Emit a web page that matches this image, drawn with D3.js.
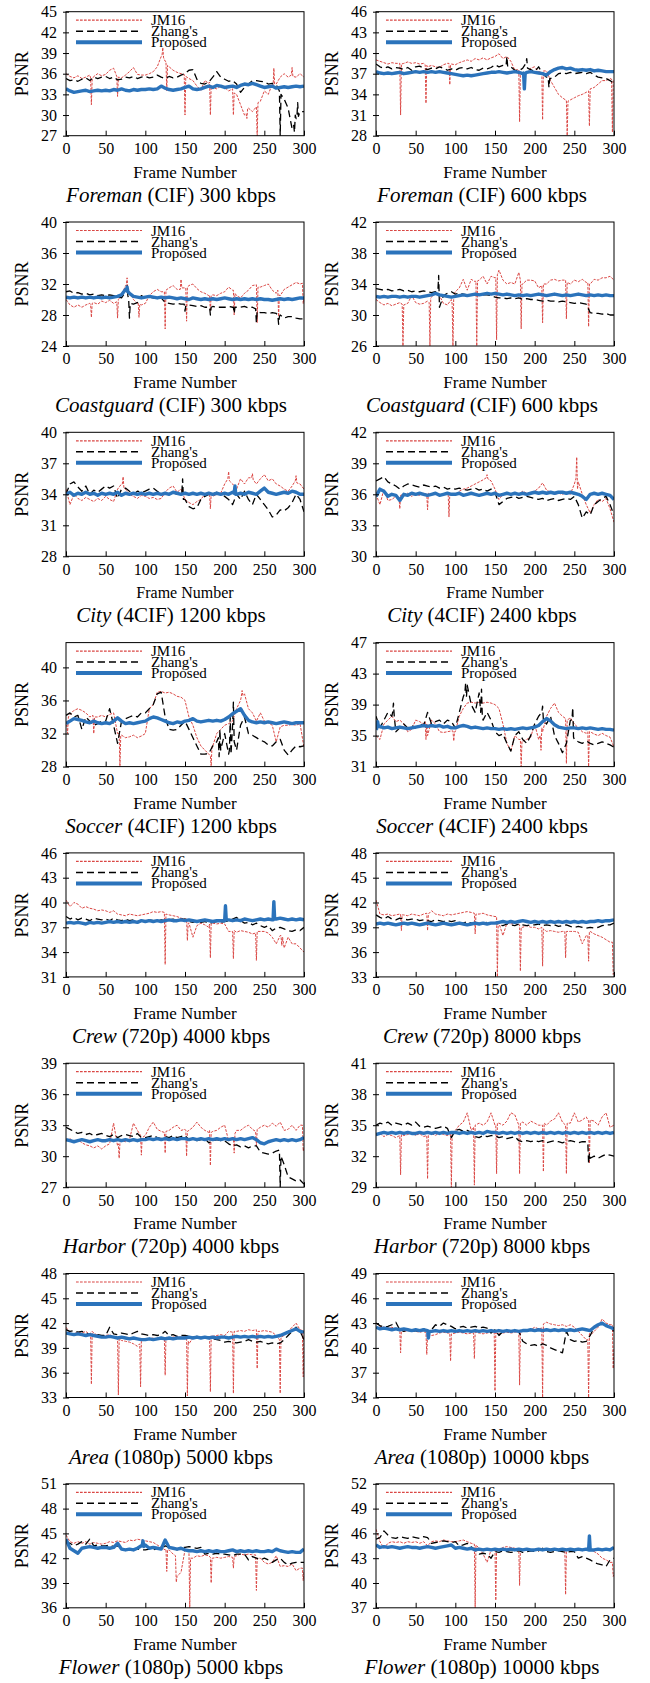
<!DOCTYPE html>
<html>
<head>
<meta charset="utf-8">
<script src="https://cdn.jsdelivr.net/npm/d3@7"></script>
<style>
  body { margin: 0; background: #fff; }
  svg { display: block; }
  text { font-family: "Liberation Serif", "Times New Roman", serif; fill: #000; }
</style>
</head>
<body>
<svg id="chart" width="650" height="1683" font-family="Liberation Serif, Times New Roman, serif"></svg>
<script>
// ---- shared axis values ----
const frameTicks = [0, 50, 100, 150, 200, 250, 300];
const frameGrid = d3.range(0, 301, 5);          // frames sampled every 5
const seriesNames = ["JM16", "Zhang's", "Proposed"];

// ---- panel captions ----
const sequenceNames = ["Foreman", "Foreman", "Coastguard", "Coastguard", "City", "City", "Soccer", "Soccer",
                       "Crew", "Crew", "Harbor", "Harbor", "Area", "Area", "Flower", "Flower"];
const captionTails = [" (CIF) 300 kbps", " (CIF) 600 kbps", " (CIF) 300 kbps", " (CIF) 600 kbps",
                      " (4CIF) 1200 kbps", " (4CIF) 2400 kbps", " (4CIF) 1200 kbps", " (4CIF) 2400 kbps",
                      " (720p) 4000 kbps", " (720p) 8000 kbps", " (720p) 4000 kbps", " (720p) 8000 kbps",
                      " (1080p) 5000 kbps", " (1080p) 10000 kbps", " (1080p) 5000 kbps", " (1080p) 10000 kbps"];

// ---- PSNR axes ----
const yDomains = [[27,45],[28,46],[24,40],[26,42],[28,40],[30,42],[28,43],[31,47],
                  [31,46],[33,48],[27,39],[29,41],[33,48],[34,49],[36,51],[37,52]];
const yTicks = [[27,30,33,36,39,42,45],[28,31,34,37,40,43,46],[24,28,32,36,40],[26,30,34,38,42],
                [28,31,34,37,40],[30,33,36,39,42],[28,32,36,40],[31,35,39,43,47],
                [31,34,37,40,43,46],[33,36,39,42,45,48],[27,30,33,36,39],[29,32,35,38,41],
                [33,36,39,42,45,48],[34,37,40,43,46,49],[36,39,42,45,48,51],[37,40,43,46,49,52]];

// ---- PSNR per frame (dB), frames 0..300 step 5; spikes: [frame, before, peak, after] ----
// Foreman CIF 300 kbps
const foreman300Jm = [36.0,35.6,35.4,35.7,35.3,35.5,35.8,35.6,36.0,35.7,
  35.9,36.5,36.8,35.5,35.4,35.8,36.3,36.9,35.9,35.8,
  35.8,36.0,36.3,37.0,38.5,37.8,37.0,36.5,36.2,36.0,
  35.8,35.3,35.0,34.2,33.6,35.0,34.6,34.0,33.8,34.2,
  34.0,33.5,33.8,33.0,31.5,30.0,31.0,30.5,31.5,32.0,
  33.5,33.0,34.5,34.5,35.5,36.0,35.5,36.5,35.5,36.0,35.5];
const foreman300JmSpikes = [[32,35.4,31.5,35.2],[65,35.6,32.7,35.5],[122,38.6,39.8,38.3],[127,37.8,33.5,37.2],
  [150,35.9,30.0,35.6],[182,34.8,30.0,34.2],[211,33.8,30.0,33.2],[228,30.2,29.5,31.0],[241,31.2,27.0,31.8],
  [262,34.0,36.8,34.5],[285,35.8,36.9,35.6]];
const foreman300Zhang = [35.3,35.0,35.1,34.9,35.2,35.4,35.0,35.5,35.3,35.5,
  35.6,35.3,35.5,35.1,35.2,35.5,35.4,35.6,35.3,35.5,
  35.6,35.4,35.5,35.8,35.5,35.3,35.6,35.4,35.5,35.8,
  36.0,36.5,36.6,35.2,34.6,34.5,34.8,35.5,36.3,35.5,
  35.2,34.9,35.0,34.5,33.3,34.0,34.5,35.0,35.0,34.9,
  34.8,34.5,34.6,34.4,33.5,32.3,31.0,28.0,29.5,30.5,30.5];
const foreman300ZhangSpikes = [[270,33.5,27.0,33.0],[288,28.5,27.5,30.0],[292,29.5,31.8,29.8]];
const foreman300Prop = [33.8,33.5,33.3,33.4,33.5,33.6,33.4,33.5,33.6,33.5,
  33.6,33.5,33.7,33.6,33.8,33.6,33.5,33.7,33.6,33.7,
  33.7,33.8,33.7,33.8,34.2,33.9,33.7,33.6,33.7,33.8,
  34.0,34.2,33.8,33.7,33.8,34.0,34.2,34.0,34.3,34.2,
  34.0,34.1,34.2,34.0,34.3,34.5,34.4,34.6,34.4,34.2,
  34.0,34.1,34.2,33.9,34.0,34.1,34.0,34.1,34.2,34.1,34.2];
const foreman300PropSpikes = [];

// Foreman CIF 600 kbps
const foreman600Jm = [39.0,38.8,38.6,38.4,38.6,38.5,38.4,38.5,38.7,38.5,
  38.6,38.4,38.5,38.0,38.2,38.0,37.9,38.3,38.5,38.4,
  38.3,38.6,38.8,39.0,38.8,39.2,39.0,39.3,39.0,39.3,
  39.5,39.9,39.2,39.5,38.8,37.5,37.3,37.0,37.2,37.8,
  38.0,37.3,37.0,37.4,36.0,35.0,34.0,33.5,33.0,33.2,
  33.5,33.8,34.0,34.3,34.5,35.0,35.5,36.0,36.0,36.3,36.0];
const foreman600JmSpikes = [[31,38.5,31.0,38.4],[63,38.3,32.7,38.2],[93,38.5,35.4,38.3],[181,37.6,30.0,37.2],
  [210,37.2,30.3,37.4],[241,33.1,28.0,33.0],[269,34.5,29.4,34.8],[298,36.2,28.5,36.0]];
const foreman600Zhang = [38.4,38.0,37.8,38.0,37.7,37.9,37.8,37.6,37.9,37.5,
  38.0,38.1,37.8,37.6,37.8,37.7,38.0,37.8,37.5,37.7,
  37.5,37.8,37.9,37.7,37.9,37.6,37.5,37.8,37.7,37.9,
  38.3,38.0,38.2,38.8,38.0,37.5,37.4,37.8,38.9,37.6,
  37.3,38.0,37.0,36.5,36.3,36.5,37.0,37.1,37.0,37.2,
  37.0,37.1,37.2,37.0,37.2,36.8,36.5,36.4,36.3,36.0,35.6];
const foreman600ZhangSpikes = [[165,38.2,39.5,38.0],[190,38.5,39.2,37.8],[218,36.5,35.0,36.3]];
const foreman600Prop = [37.3,37.1,37.0,37.1,37.0,37.1,37.2,37.0,37.1,37.2,
  37.3,37.2,37.3,37.2,37.3,37.2,37.3,37.2,37.1,37.0,
  36.9,36.8,36.7,36.8,36.7,36.8,36.9,37.0,37.1,37.2,
  37.2,37.3,37.2,37.1,37.2,37.3,37.2,37.0,37.2,37.3,
  37.2,37.1,37.0,36.8,37.3,37.6,37.8,37.9,37.7,37.8,
  37.6,37.5,37.6,37.5,37.6,37.4,37.5,37.4,37.3,37.3,37.3];
const foreman600PropSpikes = [[187,37.1,34.8,37.0]];

// Coastguard CIF 300 kbps
const coast300Jm = [30.0,29.3,29.0,29.3,29.0,29.3,29.5,29.6,29.4,29.8,
  29.6,29.9,29.5,29.8,30.5,31.8,31.0,30.0,29.5,29.3,
  29.5,30.5,31.0,31.3,31.0,31.2,31.5,31.8,31.3,32.0,
  31.5,31.8,32.0,31.4,31.0,30.8,30.5,30.6,30.5,30.8,
  31.0,31.6,31.2,30.5,30.2,30.8,31.2,31.8,32.0,31.6,
  31.8,32.0,31.2,30.8,30.5,31.3,31.6,31.9,32.2,32.0,32.0];
const coast300JmSpikes = [[32,29.4,27.7,29.5],[65,29.7,27.6,30.0],[77,31.8,32.8,31.2],[92,29.6,27.7,29.4],
  [125,31.0,26.2,31.2],[145,31.3,32.6,31.5],[152,31.5,27.2,31.6],[182,30.6,28.5,30.5],[212,31.2,28.0,30.8],
  [241,31.9,27.0,31.6],[268,31.2,27.8,30.6],[299,32.1,29.5,30.2]];
const coast300Zhang = [31.0,31.1,30.8,30.9,30.7,30.8,30.6,30.7,30.5,30.6,
  30.5,30.6,30.5,30.4,30.2,31.0,29.5,29.4,29.6,30.5,
  30.2,30.3,30.2,30.1,30.2,29.6,29.5,29.4,29.5,29.4,
  29.2,29.3,29.2,29.1,29.2,29.0,29.0,29.1,29.0,29.0,
  29.0,29.1,29.0,29.0,29.0,29.1,28.9,29.0,28.6,28.3,
  28.3,28.2,28.3,28.2,28.0,27.6,27.8,27.8,27.6,27.5,27.5];
const coast300ZhangSpikes = [[77,31.0,31.8,30.5],[80,30.0,27.6,29.5],[150,29.4,28.5,29.2],[182,29.0,28.0,29.0],
  [212,29.0,28.2,29.0],[240,28.8,27.0,28.5],[268,28.0,26.8,27.8]];
const coast300Prop = [30.3,30.2,30.3,30.2,30.3,30.2,30.3,30.2,30.3,30.2,
  30.3,30.2,30.3,30.4,30.6,31.3,30.8,30.4,30.3,30.2,
  30.3,30.4,30.3,30.2,30.3,30.2,30.3,30.2,30.1,30.2,
  30.1,30.0,30.2,30.1,30.0,30.1,30.0,30.1,30.0,30.1,
  30.2,30.1,30.0,30.1,30.0,30.1,30.0,30.1,30.0,30.1,
  30.0,30.0,29.9,30.0,30.1,30.0,30.1,30.0,30.1,30.2,30.2];
const coast300PropSpikes = [[77,31.2,31.6,31.0]];

// Coastguard CIF 600 kbps
const coast600Jm = [32.0,31.6,31.3,31.5,31.2,31.4,31.6,31.3,31.5,32.5,
  31.6,31.4,31.5,31.8,32.3,33.0,32.5,31.5,31.3,32.0,
  33.0,33.5,34.6,33.2,34.6,34.3,34.5,35.0,34.0,35.0,
  34.8,35.8,34.5,34.0,34.2,34.0,35.5,34.0,34.5,34.5,
  34.4,33.5,34.3,34.0,34.5,34.6,34.4,34.5,34.6,34.0,
  34.5,34.3,34.6,34.2,34.0,34.6,34.5,34.8,34.8,35.0,34.5];
const coast600JmSpikes = [[34,31.4,26.0,31.3],[68,31.6,26.0,32.2],[97,31.4,26.0,32.6],[127,34.4,26.0,34.4],
  [152,34.8,26.8,35.2],[183,34.5,28.2,34.0],[210,33.8,29.0,34.0],[240,34.5,29.5,34.2],[268,34.2,28.5,34.0]];
const coast600Zhang = [33.4,33.3,33.2,33.3,33.1,33.2,33.3,33.1,33.2,33.0,
  33.1,33.0,33.1,33.0,32.9,33.0,32.4,32.5,32.8,33.0,
  32.7,32.8,32.7,32.6,32.7,32.6,32.7,32.6,32.6,32.5,
  32.3,32.2,32.2,32.1,32.2,32.1,32.2,32.0,32.1,32.0,
  32.0,31.9,31.8,31.9,31.8,31.8,31.7,31.8,31.7,31.6,
  31.5,31.6,31.5,31.4,30.3,30.2,30.2,30.1,30.2,30.0,30.0];
const coast600ZhangSpikes = [[79,33.1,35.1,31.0]];
const coast600Prop = [32.4,32.3,32.4,32.3,32.4,32.4,32.3,32.4,32.3,32.4,
  32.4,32.3,32.4,32.5,32.6,32.8,32.6,32.5,32.4,32.3,
  32.4,32.5,32.6,32.5,32.6,32.7,32.6,32.7,32.8,32.7,
  32.8,32.7,32.6,32.7,32.6,32.5,32.6,32.5,32.6,32.5,
  32.6,32.7,32.6,32.5,32.6,32.7,32.6,32.5,32.6,32.5,
  32.6,32.7,32.6,32.5,32.6,32.5,32.6,32.5,32.6,32.5,32.5];
const coast600PropSpikes = [];

// City 4CIF 1200 kbps
const city1200Jm = [34.5,33.0,34.0,33.6,33.4,33.7,33.5,33.3,33.6,33.4,
  33.8,33.5,33.3,34.5,35.0,34.5,34.0,33.8,33.6,33.9,
  33.8,33.6,33.7,33.5,33.6,34.2,34.6,34.8,34.2,34.5,
  33.5,33.2,33.0,33.3,33.5,34.0,34.2,33.8,34.0,34.1,
  35.0,36.0,35.0,34.5,35.5,35.0,35.6,35.9,35.0,35.5,
  35.9,35.3,35.5,35.0,34.8,34.5,34.3,34.8,35.5,35.0,34.5];
const city1200JmSpikes = [[72,35.0,35.7,34.6],[182,34.0,32.6,34.0],[205,35.5,36.2,35.3],[235,35.6,36.0,35.4],
  [290,35.3,35.8,35.1]];
const city1200Zhang = [34.0,35.0,35.2,34.7,34.3,34.8,34.0,34.4,34.2,34.5,
  34.8,34.6,34.8,33.6,34.5,34.6,34.3,34.0,34.3,34.2,
  34.3,34.5,34.6,34.3,34.0,34.1,34.0,34.2,34.0,34.3,
  33.5,32.8,32.6,32.7,33.5,33.8,34.0,34.0,34.2,34.0,
  33.8,33.5,33.0,34.0,33.5,34.3,33.5,33.0,34.0,33.5,
  33.0,32.5,31.8,32.0,32.5,32.4,32.7,33.2,34.0,33.5,32.3];
const city1200ZhangSpikes = [[147,34.2,35.5,33.5]];
const city1200Prop = [34.0,34.2,33.9,34.1,34.0,34.2,34.0,34.1,33.9,34.1,
  34.0,34.1,34.0,34.2,33.9,34.1,34.0,34.1,34.0,34.1,
  34.0,34.1,34.0,34.1,34.0,34.1,34.0,34.2,34.1,34.0,
  34.1,34.0,34.1,34.0,34.1,34.0,34.1,34.0,34.1,34.0,
  34.1,34.0,34.2,34.0,34.1,34.0,34.2,34.1,34.0,34.3,
  34.6,34.2,34.1,34.0,34.1,34.2,34.1,34.3,34.2,34.0,34.0];
const city1200PropSpikes = [[213,34.1,34.8,34.0]];

// City 4CIF 2400 kbps
const city2400Jm = [36.0,35.0,36.5,35.4,35.5,35.8,35.9,36.0,36.1,35.8,
  36.0,35.9,36.1,35.8,36.0,36.1,35.9,36.0,36.1,35.9,
  36.0,36.3,36.5,36.6,36.8,37.0,37.2,37.4,37.6,37.3,
  36.5,35.5,36.0,36.2,36.0,36.1,36.0,36.3,36.1,36.2,
  36.3,36.6,37.1,36.4,36.2,36.0,36.1,36.0,36.2,36.0,
  37.0,37.2,36.0,35.0,34.2,35.0,35.5,35.3,35.6,34.6,33.3];
const city2400JmSpikes = [[30,35.8,34.6,35.9],[65,36.0,34.5,36.1],[92,36.0,33.8,36.0],[140,37.6,37.9,37.5],
  [253,37.5,39.6,36.5]];
const city2400Zhang = [37.3,37.5,37.7,37.2,37.0,36.8,36.5,36.8,37.0,36.9,
  36.8,36.7,36.9,36.8,36.7,36.8,36.6,36.7,36.5,36.6,
  36.5,36.6,36.5,36.4,36.5,36.6,36.4,36.5,36.3,36.5,
  36.2,35.0,35.3,35.6,35.7,35.8,35.6,35.7,35.8,35.7,
  35.6,35.5,35.6,35.4,35.5,35.6,35.4,35.5,35.6,35.5,
  35.8,35.0,33.7,34.3,34.0,35.0,35.3,35.6,35.8,35.0,34.0];
const city2400ZhangSpikes = [];
const city2400Prop = [35.8,36.5,36.3,35.8,36.0,35.9,35.4,36.0,35.9,36.1,
  36.0,36.1,36.0,35.9,36.0,36.1,35.9,36.0,36.1,36.0,
  36.0,36.1,35.9,36.0,36.1,36.0,35.9,36.0,36.1,36.0,
  36.1,35.9,36.0,36.1,36.0,36.1,36.0,36.1,36.0,36.1,
  36.2,36.1,36.2,36.1,36.2,36.1,36.2,36.2,36.1,36.2,
  36.1,36.0,35.8,35.5,36.0,36.1,36.0,36.1,36.0,35.9,35.5];
const city2400PropSpikes = [];

// Soccer 4CIF 1200 kbps
const soccer1200Jm = [33.0,34.3,34.8,35.0,34.8,34.5,34.0,34.3,34.0,34.2,
  34.0,34.3,34.5,32.0,31.8,31.5,31.6,31.8,31.5,31.7,
  32.0,35.0,35.5,37.0,37.1,36.9,37.0,36.8,36.5,36.4,
  36.0,34.0,33.0,31.5,30.5,30.0,29.5,30.5,32.0,32.5,
  33.0,33.2,33.5,35.0,36.0,36.8,35.0,34.5,33.5,34.5,
  33.5,33.3,33.0,31.0,32.8,33.0,33.0,33.1,33.0,33.2,30.3];
const soccer1200JmSpikes = [[2,33.0,32.0,34.0],[35,34.2,32.0,34.0],[68,32.0,28.0,31.8],[183,29.3,28.0,30.5],
  [222,36.5,37.2,36.6]];
const soccer1200Zhang = [34.2,34.5,34.0,34.2,32.5,34.0,33.5,33.0,33.2,33.5,
  33.5,35.0,33.0,30.8,33.5,33.8,34.0,34.2,34.0,34.5,
  34.5,35.0,35.5,36.8,37.0,34.0,32.5,32.4,32.5,33.0,
  33.5,32.5,31.5,30.5,29.5,29.5,29.6,30.5,31.0,30.0,
  32.0,29.5,33.0,30.0,33.0,34.0,32.0,31.8,31.5,31.2,
  31.0,30.6,30.5,31.0,31.3,30.0,29.4,30.0,30.5,30.4,30.5];
const soccer1200ZhangSpikes = [[193,31.5,29.2,32.5],[207,30.0,34.0,29.5],[211,33.0,35.8,31.0]];
const soccer1200Prop = [33.2,33.5,33.8,33.7,33.6,33.4,33.3,33.5,33.3,33.2,
  33.3,33.2,33.5,33.9,33.5,33.2,33.3,33.2,33.3,33.4,
  33.5,33.8,34.0,33.9,33.7,33.5,33.3,33.2,33.4,33.3,
  33.5,33.6,33.8,33.5,33.4,33.5,33.6,33.5,33.6,33.5,
  33.7,34.0,34.4,34.7,35.0,34.2,33.6,33.4,33.3,33.4,
  33.3,33.4,33.3,33.2,33.3,33.4,33.3,33.2,33.3,33.3,33.3];
const soccer1200PropSpikes = [];

// Soccer 4CIF 2400 kbps
const soccer2400Jm = [35.0,34.5,36.5,37.0,37.5,36.8,37.0,36.5,35.5,35.8,
  37.0,36.8,36.5,35.0,37.0,36.5,35.5,35.4,35.5,35.6,
  35.5,37.5,38.5,39.2,39.3,39.2,39.3,39.2,39.3,39.2,
  39.0,38.5,36.5,34.0,33.0,35.0,34.5,34.3,34.5,34.8,
  36.5,34.5,35.5,37.5,38.5,39.2,38.0,37.5,37.0,37.3,
  36.5,36.0,35.5,35.3,35.5,35.2,35.0,35.3,35.0,34.8,33.5];
const soccer2400JmSpikes = [[63,36.8,34.5,36.5],[98,35.6,34.3,35.5],[183,34.5,31.0,34.3],[208,35.0,33.1,36.0],
  [240,37.2,31.4,37.0],[268,35.5,31.0,35.5]];
const soccer2400Zhang = [37.5,36.0,37.0,38.0,37.5,35.5,36.0,36.5,36.0,36.3,
  36.0,36.5,36.3,38.0,36.5,36.8,37.0,36.5,37.0,36.8,
  36.0,38.0,40.0,41.5,39.0,38.0,40.5,37.0,38.0,37.0,
  35.5,35.0,35.2,34.0,33.0,35.0,35.5,34.5,34.0,35.0,
  36.5,37.5,38.5,36.5,37.5,35.0,34.0,32.8,34.0,37.0,
  34.5,34.2,34.0,34.3,34.0,33.8,34.0,34.2,34.0,33.8,33.5];
const soccer2400ZhangSpikes = [[22,38.0,39.2,37.5],[113,40.5,41.8,40.0],[133,38.0,41.0,37.5],[210,38.0,38.8,37.0],
  [248,37.0,38.6,34.8]];
const soccer2400Prop = [35.8,36.2,36.0,36.1,35.9,36.0,36.1,36.0,35.9,36.0,
  36.1,36.2,36.3,36.2,36.3,36.2,36.3,36.1,36.2,36.0,
  36.0,36.2,36.3,36.2,36.0,36.1,36.0,35.9,36.0,35.9,
  35.9,35.8,35.9,35.8,35.9,35.8,35.9,36.0,35.9,36.0,
  36.1,36.3,36.8,37.2,36.9,36.4,36.1,36.0,35.9,36.0,
  36.0,35.9,36.0,35.9,36.0,35.9,35.8,35.9,35.8,35.8,35.7];
const soccer2400PropSpikes = [[2,35.9,36.8,36.2]];

// Crew 720p 4000 kbps
const crew4000Jm = [40.3,39.5,40.0,39.8,39.3,39.5,39.3,39.2,39.0,39.1,
  39.0,38.8,39.0,38.6,38.5,38.4,38.6,38.5,38.4,38.5,
  38.6,38.7,38.9,38.8,38.9,38.7,38.5,38.4,38.3,38.1,
  38.0,37.5,35.8,37.2,37.5,37.3,37.0,37.5,37.4,37.5,
  37.4,36.5,36.8,36.4,36.6,36.5,36.4,36.2,36.4,36.5,
  36.5,36.3,35.8,35.0,36.0,34.5,35.8,35.0,35.0,34.5,34.0];
const crew4000JmSpikes = [[125,38.8,32.5,38.6],[153,38.0,35.4,37.5],[182,37.4,33.3,37.5],[211,36.5,33.2,36.6],
  [240,36.3,33.0,36.5],[272,36.0,34.8,35.8]];
const crew4000Zhang = [38.3,38.0,38.2,37.9,38.1,38.0,37.8,38.1,38.0,37.9,
  38.0,37.8,38.1,37.9,37.8,38.0,37.8,37.9,37.7,37.8,
  37.8,37.9,37.8,37.7,37.9,37.8,37.9,38.0,37.8,38.0,
  38.0,37.7,37.6,37.8,37.6,37.7,37.5,37.6,37.7,37.6,
  37.7,37.8,38.0,38.2,37.8,37.5,37.6,37.3,37.5,37.2,
  37.0,37.2,36.6,36.9,37.0,36.8,36.6,36.5,36.7,36.6,37.0];
const crew4000ZhangSpikes = [];
const crew4000Prop = [37.5,37.6,37.5,37.6,37.5,37.4,37.6,37.5,37.6,37.5,
  37.6,37.7,37.6,37.7,37.6,37.7,37.6,37.7,37.6,37.8,
  37.7,37.8,37.7,37.8,37.7,37.8,37.9,37.8,37.8,37.9,
  37.8,37.9,37.8,37.7,37.8,37.9,37.8,37.7,37.8,37.8,
  37.8,37.9,37.8,37.9,37.8,38.0,37.9,37.8,37.9,38.0,
  37.9,38.0,37.9,38.0,38.1,38.0,37.9,38.0,37.9,38.0,37.9];
const crew4000PropSpikes = [[201,37.8,39.6,37.9],[262,37.9,40.1,38.0]];

// Crew 720p 8000 kbps
const crew8000Jm = [42.3,40.6,40.5,40.6,40.4,40.5,40.6,40.5,40.4,40.6,
  40.5,40.4,40.6,40.8,41.0,40.6,40.5,40.4,40.6,40.5,
  40.6,40.7,40.8,40.9,40.8,40.7,40.6,40.7,40.5,40.4,
  40.3,39.5,38.0,39.5,39.4,39.5,39.3,39.0,39.2,39.0,
  39.0,38.8,38.6,38.5,38.6,38.5,38.4,38.5,38.4,38.5,
  38.5,38.4,37.0,38.0,38.5,38.2,38.0,37.8,37.5,37.2,37.0];
const crew8000JmSpikes = [[32,40.6,38.6,40.5],[65,40.7,38.6,40.6],[125,40.7,38.2,40.6],[153,40.3,33.0,39.5],
  [182,39.3,33.7,39.0],[210,39.0,34.3,38.8],[239,38.5,35.3,38.5],[268,38.0,34.9,38.5],[299,37.2,33.3,33.5]];
const crew8000Zhang = [40.5,40.2,40.0,40.3,40.0,39.9,40.1,40.0,39.9,40.0,
  40.0,39.8,39.9,39.8,39.7,39.9,39.8,39.7,39.8,39.7,
  39.8,39.6,39.5,39.7,39.5,39.6,39.4,39.5,39.6,39.5,
  39.5,39.3,39.2,39.4,39.3,39.2,39.4,39.3,39.2,39.3,
  39.3,39.4,39.2,39.3,39.2,39.3,39.1,39.2,39.3,39.1,
  39.0,39.1,39.0,38.9,39.0,38.9,39.0,39.2,39.3,39.3,39.5];
const crew8000ZhangSpikes = [];
const crew8000Prop = [39.4,39.5,39.4,39.5,39.4,39.3,39.4,39.5,39.4,39.5,
  39.4,39.3,39.4,39.5,39.4,39.3,39.4,39.5,39.4,39.3,
  39.4,39.5,39.4,39.3,39.4,39.5,39.4,39.5,39.4,39.5,
  39.5,39.6,39.7,39.6,39.7,39.6,39.7,39.8,39.7,39.6,
  39.7,39.6,39.7,39.6,39.7,39.6,39.7,39.6,39.7,39.6,
  39.7,39.6,39.7,39.6,39.7,39.7,39.8,39.7,39.8,39.8,39.9];
const crew8000PropSpikes = [];

// Harbor 720p 4000 kbps
const harbor4000Jm = [31.5,31.7,31.4,31.6,31.3,31.1,31.0,30.8,31.0,30.7,
  31.0,31.2,33.2,31.0,31.5,31.4,31.6,33.2,32.5,32.0,
  32.0,32.8,33.3,32.6,32.4,32.0,32.5,32.8,33.0,32.5,
  32.6,32.5,32.8,33.3,32.8,32.5,32.3,32.4,32.5,32.8,
  33.0,31.5,31.8,32.5,32.5,32.8,33.0,32.6,32.4,32.8,
  33.0,32.8,33.2,32.9,33.3,32.5,32.6,33.0,32.5,33.0,32.5];
const harbor4000JmSpikes = [[67,31.2,29.8,31.3],[95,32.0,30.1,31.8],[125,32.3,30.3,32.4],[152,32.5,30.0,32.4],
  [182,32.5,29.1,32.3],[212,31.8,30.3,32.2],[240,32.4,31.0,32.6],[299,33.0,30.5,30.8]];
const harbor4000Zhang = [32.8,32.6,32.4,32.2,32.3,32.1,32.2,32.0,32.1,32.2,
  32.0,31.9,32.1,31.8,32.0,32.1,32.0,31.9,32.2,31.8,
  31.8,31.9,32.0,31.8,31.7,31.9,31.8,32.0,31.8,31.9,
  32.0,31.6,31.7,31.5,31.6,31.7,31.3,31.5,31.6,31.5,
  31.5,31.2,31.0,31.1,30.9,31.0,30.8,31.0,31.0,30.4,
  30.3,30.2,30.3,30.5,30.2,29.2,28.0,27.8,27.6,27.7,27.3];
const harbor4000ZhangSpikes = [[270,30.6,27.0,30.0]];
const harbor4000Prop = [31.6,31.5,31.4,31.5,31.6,31.5,31.4,31.5,31.6,31.5,
  31.5,31.6,31.5,31.6,31.5,31.6,31.5,31.6,31.5,31.6,
  31.6,31.7,31.6,31.7,31.6,31.7,31.6,31.7,31.6,31.7,
  31.7,31.6,31.7,31.6,31.7,31.6,31.7,31.6,31.7,31.6,
  31.7,31.6,31.7,31.6,31.7,31.6,31.7,31.8,31.6,31.3,
  31.2,31.4,31.5,31.6,31.5,31.6,31.5,31.6,31.5,31.6,31.8];
const harbor4000PropSpikes = [];

// Harbor 720p 8000 kbps
const harbor8000Jm = [34.0,34.2,33.9,34.1,34.0,33.8,34.2,34.0,34.1,34.3,
  34.0,34.2,33.9,34.0,34.2,34.0,34.3,34.1,34.0,34.2,
  34.5,35.0,35.3,36.2,34.5,35.0,35.2,35.0,35.3,36.2,
  35.0,35.2,35.0,35.4,36.2,36.0,35.0,35.3,35.0,35.4,
  35.2,35.0,35.3,35.0,35.4,35.6,36.2,35.3,35.0,35.2,
  36.2,35.3,35.5,35.8,36.2,35.4,35.0,35.8,36.2,34.8,35.0];
const harbor8000JmSpikes = [[31,34.0,30.2,34.1],[65,34.0,29.8,34.2],[95,34.1,29.0,34.3],[124,34.8,29.2,35.0],
  [152,35.0,30.3,35.2],[181,35.0,30.3,35.2],[211,35.0,30.5,35.2],[240,35.0,30.3,35.2],[269,35.4,31.3,35.5]];
const harbor8000Zhang = [35.0,35.2,35.1,35.3,35.0,35.2,35.1,35.0,35.2,35.0,
  35.3,34.9,34.8,34.9,34.8,34.7,34.8,34.9,34.7,33.8,
  34.5,34.6,34.4,34.5,34.3,33.9,33.8,34.0,33.9,34.0,
  34.0,33.8,33.9,33.7,33.8,33.9,33.5,33.4,33.5,33.4,
  33.5,33.4,33.5,33.3,33.4,33.5,33.4,33.3,33.4,33.5,
  33.4,33.3,33.4,33.4,31.8,32.0,31.8,32.0,32.2,32.1,32.0];
const harbor8000ZhangSpikes = [[268,33.3,31.3,32.3]];
const harbor8000Prop = [34.1,34.2,34.3,34.2,34.3,34.2,34.3,34.2,34.3,34.2,
  34.2,34.3,34.2,34.3,34.2,34.3,34.2,34.3,34.2,34.3,
  34.3,34.2,34.3,34.2,34.3,34.2,34.3,34.2,34.4,34.3,
  34.3,34.2,34.3,34.2,34.3,34.2,34.3,34.2,34.3,34.2,
  34.3,34.2,34.3,34.2,34.3,34.2,34.3,34.2,34.3,34.2,
  34.3,34.2,34.3,34.2,34.3,34.2,34.3,34.2,34.3,34.2,34.3];
const harbor8000PropSpikes = [];

// Area 1080p 5000 kbps
const area5000Jm = [41.5,40.8,40.7,40.9,40.8,41.0,40.6,40.8,40.5,40.4,
  40.5,40.6,40.3,40.2,39.9,39.8,39.7,39.5,39.2,39.8,
  40.0,40.1,40.2,40.0,40.3,40.1,40.2,40.3,40.4,40.3,
  40.3,39.5,40.2,40.2,40.3,40.2,40.3,40.4,40.5,40.6,
  40.5,41.0,40.8,41.0,41.1,41.0,41.2,41.1,41.2,41.0,
  41.1,41.0,40.9,40.5,40.0,40.5,41.0,41.5,42.0,41.2,41.0];
const area5000JmSpikes = [[32,40.9,34.6,41.0],[66,40.3,33.3,40.1],[94,39.5,34.3,39.8],[125,40.2,35.7,40.3],
  [153,40.3,33.2,39.8],[182,40.4,33.7,40.5],[211,40.9,33.5,41.0],[241,41.2,36.5,41.0],[270,40.0,33.5,40.3],
  [299,41.1,35.5,40.5]];
const area5000Zhang = [41.2,41.0,41.1,40.9,41.0,40.8,40.6,40.5,40.6,40.5,
  40.5,41.5,40.7,40.6,40.8,40.7,40.6,40.8,41.0,40.7,
  40.6,40.5,40.6,40.5,40.6,41.0,40.5,40.6,40.4,40.5,
  40.5,40.4,40.3,40.4,40.3,40.2,40.3,40.1,40.0,39.9,
  39.7,39.8,39.7,39.6,39.7,39.8,40.0,39.8,39.7,39.8,
  39.6,39.5,39.6,39.5,39.6,40.0,40.5,41.0,41.5,41.0,40.0];
const area5000ZhangSpikes = [];
const area5000Prop = [40.8,40.7,40.6,40.7,40.6,40.5,40.6,40.5,40.4,40.3,
  40.3,40.4,40.3,40.2,40.3,40.2,40.1,40.2,40.1,40.0,
  40.0,40.1,40.0,40.1,40.2,40.1,40.2,40.1,40.2,40.2,
  40.2,40.3,40.2,40.3,40.2,40.3,40.2,40.3,40.2,40.3,
  40.3,40.2,40.3,40.4,40.3,40.4,40.3,40.4,40.3,40.4,
  40.3,40.4,40.3,40.4,40.5,40.7,40.9,41.1,41.3,41.0,40.9];
const area5000PropSpikes = [];

// Area 1080p 10000 kbps
const area10000Jm = [43.0,42.6,42.5,42.4,42.5,42.3,42.2,42.0,42.1,42.0,
  42.0,41.9,42.0,41.8,41.5,41.6,41.8,41.9,41.8,41.7,
  41.8,41.9,41.8,41.7,41.8,41.9,41.8,41.7,41.8,41.9,
  41.8,41.7,41.8,41.9,41.8,41.9,41.8,42.0,42.0,42.2,
  42.5,42.3,42.3,43.1,42.9,42.8,42.7,42.8,42.6,42.8,
  42.5,42.0,41.5,41.0,41.5,42.0,42.5,43.5,43.0,42.8,42.0];
const area10000JmSpikes = [[31,42.3,39.4,42.2],[64,41.8,39.2,41.6],[94,41.8,38.4,41.7],[124,41.8,38.7,41.9],
  [150,41.9,34.8,41.8],[181,42.0,35.5,41.9],[210,42.4,34.0,42.9],[268,41.0,34.0,41.8],[299,42.8,37.5,40.0]];
const area10000Zhang = [43.0,42.7,42.5,42.6,42.8,43.1,42.2,42.0,42.2,42.0,
  42.1,42.0,42.3,42.0,42.2,42.8,42.6,43.0,42.8,42.6,
  42.3,42.5,42.6,42.4,42.5,42.6,42.4,42.5,42.4,41.8,
  42.2,41.5,42.0,42.1,42.0,42.1,42.0,40.8,40.5,40.3,
  40.4,40.2,40.5,40.3,40.0,39.8,39.6,39.4,42.0,41.0,
  40.8,40.9,40.7,40.8,41.5,42.5,42.8,43.0,42.8,42.5,42.0];
const area10000ZhangSpikes = [];
const area10000Prop = [42.5,42.3,42.4,42.3,42.2,42.3,42.2,42.3,42.2,42.1,
  42.2,42.1,42.2,41.8,42.0,42.1,42.0,42.1,42.0,42.1,
  42.0,42.1,42.0,42.1,42.0,42.1,42.0,42.1,42.0,42.1,
  42.0,42.1,42.0,42.1,42.0,42.1,42.0,42.1,42.1,42.2,
  42.1,42.2,42.1,42.2,42.1,42.2,42.1,42.2,42.1,42.2,
  42.1,42.2,42.3,42.2,42.1,42.5,42.8,43.0,42.7,42.5,42.3];
const area10000PropSpikes = [[66,42.1,41.2,42.0]];

// Flower 1080p 5000 kbps
const flower5000Jm = [44.8,44.0,43.8,44.0,43.8,44.0,43.7,43.9,43.8,43.7,
  43.8,44.0,43.9,44.1,44.0,43.9,44.2,44.1,44.3,44.2,
  44.1,44.0,43.9,43.6,43.3,43.0,43.0,42.5,39.8,40.3,
  43.0,42.5,42.0,42.3,42.2,42.4,42.3,42.0,42.1,42.0,
  42.1,42.2,42.1,42.3,42.5,42.4,42.5,42.4,42.3,42.0,
  41.5,41.3,41.5,42.3,41.0,41.1,41.0,41.3,40.5,40.8,40.5];
const flower5000JmSpikes = [[127,43.1,40.4,43.0],[139,42.3,39.1,39.8],[156,42.8,36.0,42.0],[183,42.1,39.0,42.0],
  [211,42.1,40.8,42.2],[240,42.4,38.1,42.0],[299,40.8,39.3,40.5]];
const flower5000Zhang = [44.0,43.8,43.5,43.7,44.0,43.7,44.3,43.5,43.6,43.5,
  43.5,43.6,43.4,43.5,43.2,43.0,43.1,43.0,43.1,43.0,
  43.0,43.1,43.0,43.2,43.1,43.5,43.3,43.2,43.0,43.3,
  43.3,43.4,43.3,43.2,43.3,42.5,42.6,42.5,42.6,42.5,
  42.5,42.4,42.3,42.5,42.5,42.5,41.8,42.2,42.0,41.8,
  42.0,41.8,41.5,41.8,42.0,41.5,41.2,41.4,41.5,41.5,41.5];
const flower5000ZhangSpikes = [];
const flower5000Prop = [44.3,43.2,42.9,42.6,43.2,43.3,43.4,43.3,43.2,43.3,
  43.3,43.2,43.3,43.8,43.1,43.0,43.1,43.0,43.2,43.5,
  43.6,43.2,43.3,43.2,43.1,44.2,43.3,43.2,43.1,43.2,
  43.0,42.9,42.9,42.8,42.9,42.8,42.9,42.8,42.9,42.8,
  42.8,42.9,43.0,42.8,42.9,42.8,42.9,42.8,42.9,42.8,
  42.8,42.9,42.8,43.1,42.9,42.8,42.7,42.8,42.7,42.7,43.1];
const flower5000PropSpikes = [[97,43.5,44.1,43.4]];

// Flower 1080p 10000 kbps
const flower10000Jm = [46.5,45.0,44.2,44.8,45.0,44.9,45.0,44.8,45.0,44.9,
  45.0,44.8,45.0,44.5,45.0,45.1,45.0,45.2,45.1,45.0,
  45.0,45.1,45.2,45.0,44.8,44.5,44.2,43.5,42.5,44.0,
  44.0,44.0,44.3,44.4,44.3,44.2,44.3,44.0,44.1,44.0,
  44.0,43.9,44.0,44.1,44.0,44.1,44.0,44.0,44.0,44.0,
  44.0,44.1,44.0,44.1,44.0,43.8,43.5,43.0,42.8,42.5,42.0];
const flower10000JmSpikes = [[125,44.7,37.0,44.6],[151,44.0,37.9,44.1],[181,44.1,39.7,44.0],[239,44.0,38.6,44.0],
  [299,42.5,40.8,41.0]];
const flower10000Zhang = [45.3,45.5,46.3,45.8,45.5,45.4,45.6,45.5,45.4,45.6,
  45.5,45.4,45.6,45.5,44.8,44.9,45.0,45.1,45.0,44.9,
  45.0,44.5,44.6,44.8,44.4,44.0,43.5,43.6,43.5,43.0,
  43.8,43.7,43.9,43.8,43.7,43.8,43.9,43.7,43.8,43.9,
  43.8,43.9,44.2,43.8,43.7,43.8,43.9,43.8,43.7,43.8,
  43.8,43.0,43.2,43.0,42.8,42.5,42.3,42.2,42.0,42.8,43.0];
const flower10000ZhangSpikes = [];
const flower10000Prop = [44.6,44.3,44.4,44.3,44.4,44.3,44.2,44.3,44.4,44.3,
  44.3,44.2,44.3,44.4,44.3,44.2,44.3,44.4,44.5,44.6,
  44.2,44.3,44.2,44.1,44.2,44.0,44.1,44.0,44.1,44.0,
  44.1,44.0,44.1,44.0,44.1,44.0,44.1,44.0,44.1,44.0,
  44.0,44.1,44.0,44.1,44.0,44.1,44.0,44.1,44.0,44.1,
  44.0,44.1,44.0,44.1,44.0,44.0,44.1,44.0,44.1,44.0,44.3];
const flower10000PropSpikes = [[269,44.0,45.7,44.0]];

// ---- panel table (row-major, two columns) ----
const panelSeries = [
  [[foreman300Jm, foreman300JmSpikes], [foreman300Zhang, foreman300ZhangSpikes], [foreman300Prop, foreman300PropSpikes]],
  [[foreman600Jm, foreman600JmSpikes], [foreman600Zhang, foreman600ZhangSpikes], [foreman600Prop, foreman600PropSpikes]],
  [[coast300Jm, coast300JmSpikes], [coast300Zhang, coast300ZhangSpikes], [coast300Prop, coast300PropSpikes]],
  [[coast600Jm, coast600JmSpikes], [coast600Zhang, coast600ZhangSpikes], [coast600Prop, coast600PropSpikes]],
  [[city1200Jm, city1200JmSpikes], [city1200Zhang, city1200ZhangSpikes], [city1200Prop, city1200PropSpikes]],
  [[city2400Jm, city2400JmSpikes], [city2400Zhang, city2400ZhangSpikes], [city2400Prop, city2400PropSpikes]],
  [[soccer1200Jm, soccer1200JmSpikes], [soccer1200Zhang, soccer1200ZhangSpikes], [soccer1200Prop, soccer1200PropSpikes]],
  [[soccer2400Jm, soccer2400JmSpikes], [soccer2400Zhang, soccer2400ZhangSpikes], [soccer2400Prop, soccer2400PropSpikes]],
  [[crew4000Jm, crew4000JmSpikes], [crew4000Zhang, crew4000ZhangSpikes], [crew4000Prop, crew4000PropSpikes]],
  [[crew8000Jm, crew8000JmSpikes], [crew8000Zhang, crew8000ZhangSpikes], [crew8000Prop, crew8000PropSpikes]],
  [[harbor4000Jm, harbor4000JmSpikes], [harbor4000Zhang, harbor4000ZhangSpikes], [harbor4000Prop, harbor4000PropSpikes]],
  [[harbor8000Jm, harbor8000JmSpikes], [harbor8000Zhang, harbor8000ZhangSpikes], [harbor8000Prop, harbor8000PropSpikes]],
  [[area5000Jm, area5000JmSpikes], [area5000Zhang, area5000ZhangSpikes], [area5000Prop, area5000PropSpikes]],
  [[area10000Jm, area10000JmSpikes], [area10000Zhang, area10000ZhangSpikes], [area10000Prop, area10000PropSpikes]],
  [[flower5000Jm, flower5000JmSpikes], [flower5000Zhang, flower5000ZhangSpikes], [flower5000Prop, flower5000PropSpikes]],
  [[flower10000Jm, flower10000JmSpikes], [flower10000Zhang, flower10000ZhangSpikes], [flower10000Prop, flower10000PropSpikes]]
];

// ---- layout ----
const colLeft = [66, 376];
const plotW = 238, plotH = 124;
const rowTop0 = 11.7, rowPitch = 210.3;
const captionCenter = [171, 482];
const serif = "Liberation Serif, Times New Roman, serif";
const frameTitleSize = [17, 17, 17, 17, 16, 16, 17, 17, 17, 17, 17, 17, 17, 17, 17, 17];

const seriesStyles = [
  { stroke: "#da4744", width: 1.0, dash: "2.7,1.3" },
  { stroke: "#000000", width: 1.3, dash: "7,4" },
  { stroke: "#2b73bb", width: 3.4, dash: null }
];

// merge the 5-frame samples with the single-frame spikes
function buildPoints(values, spikes) {
  let pts = frameGrid.map((f, i) => [f, values[i]]);
  for (const [f, before, peak, after] of spikes) {
    pts = pts.filter(p => p[0] < f - 1 || p[0] > f + 1);
    pts.push([f - 1, before], [f, peak], [f + 1, after]);
  }
  return pts.sort((a, b) => a[0] - b[0]);
}

const svg = d3.select("#chart");
const defs = svg.append("defs");

panelSeries.forEach((series, idx) => {
  const col = idx % 2, row = Math.floor(idx / 2);
  const x0 = colLeft[col], y0 = rowTop0 + row * rowPitch;

  const x = d3.scaleLinear().domain([0, 300]).range([0, plotW]);
  const y = d3.scaleLinear().domain(yDomains[idx]).range([plotH, 0]);

  const g = svg.append("g").attr("transform", `translate(${x0},${y0})`);

  const clipId = "clip" + idx;
  defs.append("clipPath").attr("id", clipId)
    .append("rect").attr("x", 0).attr("y", 0).attr("width", plotW).attr("height", plotH);

  // series lines: JM16, Zhang's, then Proposed on top
  const line = d3.line().x(d => x(d[0])).y(d => y(d[1]));
  const plot = g.append("g").attr("clip-path", `url(#${clipId})`);
  series.forEach(([values, spikes], s) => {
    const st = seriesStyles[s];
    plot.append("path")
      .datum(buildPoints(values, spikes))
      .attr("d", line)
      .attr("fill", "none")
      .attr("stroke", st.stroke)
      .attr("stroke-width", st.width)
      .attr("stroke-linejoin", "round")
      .attr("stroke-dasharray", st.dash);
  });

  // frame
  g.append("rect").attr("width", plotW).attr("height", plotH)
    .attr("fill", "none").attr("stroke", "#000").attr("stroke-width", 1);

  // y axis
  const yAxis = g.append("g").call(d3.axisLeft(y).tickValues(yTicks[idx]).tickSize(0).tickPadding(9));
  yAxis.attr("font-family", serif).attr("font-size", 16);
  yAxis.select(".domain").remove();
  yAxis.selectAll("text").attr("font-size", 16).attr("font-family", serif);
  yAxis.selectAll(".tick").append("line")
    .attr("x1", -3).attr("x2", 3).attr("stroke", "#000");

  // x axis
  const xAxis = g.append("g").attr("transform", `translate(0,${plotH})`)
    .call(d3.axisBottom(x).tickValues(frameTicks).tickSize(0).tickPadding(7));
  xAxis.attr("font-family", serif).attr("font-size", 16);
  xAxis.select(".domain").remove();
  xAxis.selectAll("text").attr("font-size", 16).attr("font-family", serif);
  xAxis.selectAll(".tick").append("line")
    .attr("y1", 0).attr("y2", -5).attr("stroke", "#000");

  // axis titles
  g.append("text")
    .attr("transform", `translate(-44.5,${plotH / 2}) rotate(-90)`)
    .attr("text-anchor", "middle").attr("dy", "0.35em")
    .attr("font-family", serif).attr("font-size", 18).text("PSNR");
  g.append("text")
    .attr("x", plotW / 2).attr("y", plotH + 42)
    .attr("text-anchor", "middle").attr("font-family", serif)
    .attr("font-size", frameTitleSize[idx]).text("Frame Number");

  // legend
  const legend = g.append("g");
  [8.5, 19.5, 30.5].forEach((ly, s) => {
    const st = seriesStyles[s];
    legend.append("line")
      .attr("x1", 10).attr("x2", 76).attr("y1", ly).attr("y2", ly)
      .attr("stroke", st.stroke).attr("stroke-width", s === 2 ? 4 : st.width + 0.2)
      .attr("stroke-dasharray", st.dash);
    legend.append("text")
      .attr("x", 85).attr("y", ly + 5)
      .attr("font-family", serif).attr("font-size", 15).text(seriesNames[s]);
  });

  // caption
  const cap = svg.append("text")
    .attr("x", captionCenter[col]).attr("y", y0 + plotH + 66)
    .attr("text-anchor", "middle").attr("font-family", serif).attr("font-size", 21);
  cap.append("tspan").attr("font-style", "italic").text(sequenceNames[idx]);
  cap.append("tspan").text(captionTails[idx]);
});
</script>
</body>
</html>
